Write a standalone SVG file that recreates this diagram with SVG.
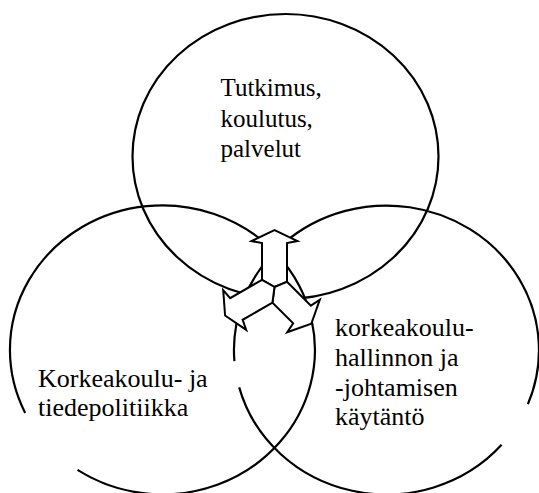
<svg xmlns="http://www.w3.org/2000/svg" width="539" height="493" viewBox="0 0 539 493">
<style>
.c{fill:none;stroke:#000;stroke-width:2.2}
.a{fill:#fff;stroke:#000;stroke-width:2;stroke-linejoin:miter}
</style>
<rect width="539" height="493" fill="#fff"/>
<g id="node-top">
<ellipse class="c" cx="285.5" cy="156.5" rx="153" ry="142.5"/>
<text font-family="'Liberation Serif', 'Times New Roman', serif" font-size="25" fill="#000"><tspan x="220.5" y="96">Tutkimus,</tspan><tspan x="220.5" y="126.5">koulutus,</tspan><tspan x="220.5" y="156.5">palvelut</tspan></text>
</g>
<g id="node-left">
<path class="c" d="M25.2,412.9 A152.5,144.5 0 1 1 77.5,469.9"/>
<text font-family="'Liberation Serif', 'Times New Roman', serif" font-size="26" fill="#000"><tspan x="38" y="387">Korkeakoulu- ja</tspan><tspan x="38" y="416">tiedepolitiikka</tspan></text>
</g>
<g id="node-right">
<path class="c" d="M501.6,444.8 A152.5,144.5 0 0 1 239.2,387.4"/>
<path class="c" d="M234.4,361.1 A152.5,144.5 0 1 1 527.9,404.1"/>
<text font-family="'Liberation Serif', 'Times New Roman', serif" font-size="26" fill="#000"><tspan x="335" y="336">korkeakoulu-</tspan><tspan x="335" y="366">hallinnon ja</tspan><tspan x="335" y="395.5">-johtamisen</tspan><tspan x="335" y="425">käytäntö</tspan></text>
</g>
<g id="connectors">
<polygon class="a" points="262,279.8 262,243 251.5,241 274.5,230 297.5,241 287,243 287,281.8 274.5,287"/>
<polygon class="a" points="287,281.8 310.9,305.7 319.8,299.7 311.3,323.8 287.2,332.3 293.2,323.4 272.45,302.6 274.5,287"/>
<polygon class="a" points="274.5,287 262,279.8 230.15,298.2 223.2,290.1 225.1,315.5 246.2,329.9 242.65,319.8 272.45,302.6"/>
</g>
</svg>
